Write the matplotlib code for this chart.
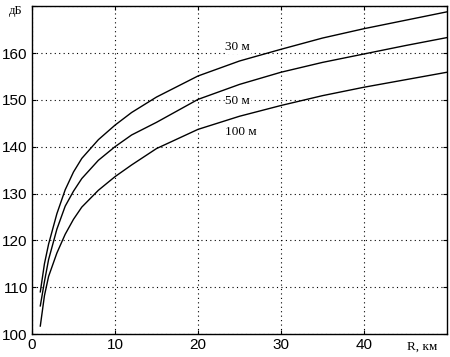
import matplotlib
matplotlib.use("Agg")
import matplotlib.pyplot as plt

# distance, km
r_km = [1, 1.5, 2, 3, 4, 5, 6, 8, 10, 12, 15, 20, 25, 30, 35, 40, 45, 50]

# losses, dB, for antenna heights 30 / 50 / 100 m
loss_30 = [109.0, 115.0, 119.2, 125.7, 130.8, 134.6, 137.5, 141.5, 144.6, 147.3,
           150.6, 155.1, 158.3, 160.8, 163.2, 165.2, 167.0, 168.8]
loss_50 = [106.0, 111.2, 115.9, 122.4, 127.3, 130.5, 133.2, 137.1, 140.0, 142.5,
           145.2, 150.1, 153.3, 155.9, 158.0, 159.8, 161.6, 163.3]
loss_100 = [101.7, 108.2, 112.3, 117.3, 121.3, 124.5, 127.1, 130.7, 133.6, 136.1,
            139.6, 143.7, 146.5, 148.8, 150.9, 152.7, 154.3, 155.9]

curve_names = ['30 м', '50 м', '100 м']
label_pos = [(24.8, 161.3), (24.8, 149.8), (25.2, 143.1)]

xticks = [0, 10, 20, 30, 40]
yticks = [100, 110, 120, 130, 140, 150, 160]

fig = plt.figure(figsize=(4.5, 3.57), dpi=100)
ax = fig.add_axes([0.0711, 0.0644, 0.9222, 0.9182])
ax.set_axisbelow(True)

for vals in (loss_30, loss_50, loss_100):
    ax.plot(r_km, vals, color='black', lw=1.0, zorder=3)

for name, (lx, ly) in zip(curve_names, label_pos):
    t = ax.text(lx, ly, name, ha='center', va='center', fontsize=9.5,
                family='Liberation Serif', zorder=2)
    t.set_bbox(dict(facecolor='white', edgecolor='none', pad=0.5))

ax.set_xlim(0, 50)
ax.set_ylim(100, 170)
ax.set_xticks(xticks)
ax.set_yticks(yticks + [170])
ax.set_yticklabels([str(v) for v in yticks] + [''])
ax.grid(True, color='black', linestyle=(0, (1, 3)), linewidth=0.8)
ax.tick_params(direction='in', length=3, top=True, right=True, labelsize=11,
               pad=3, color='black')
for lab in ax.get_xticklabels() + ax.get_yticklabels():
    lab.set_family('Liberation Sans')
for s in ax.spines.values():
    s.set_linewidth(1.0)
    s.set_color('black')
    s.set_zorder(4)

ax.text(-0.04, 0.985, 'дБ', transform=ax.transAxes, ha='center', va='center',
        fontsize=9, family='Liberation Serif')
ax.text(0.94, -0.04, 'R, км', transform=ax.transAxes, ha='center', va='center',
        fontsize=9.5, family='Liberation Serif')

fig.savefig('out.png', dpi=100)
